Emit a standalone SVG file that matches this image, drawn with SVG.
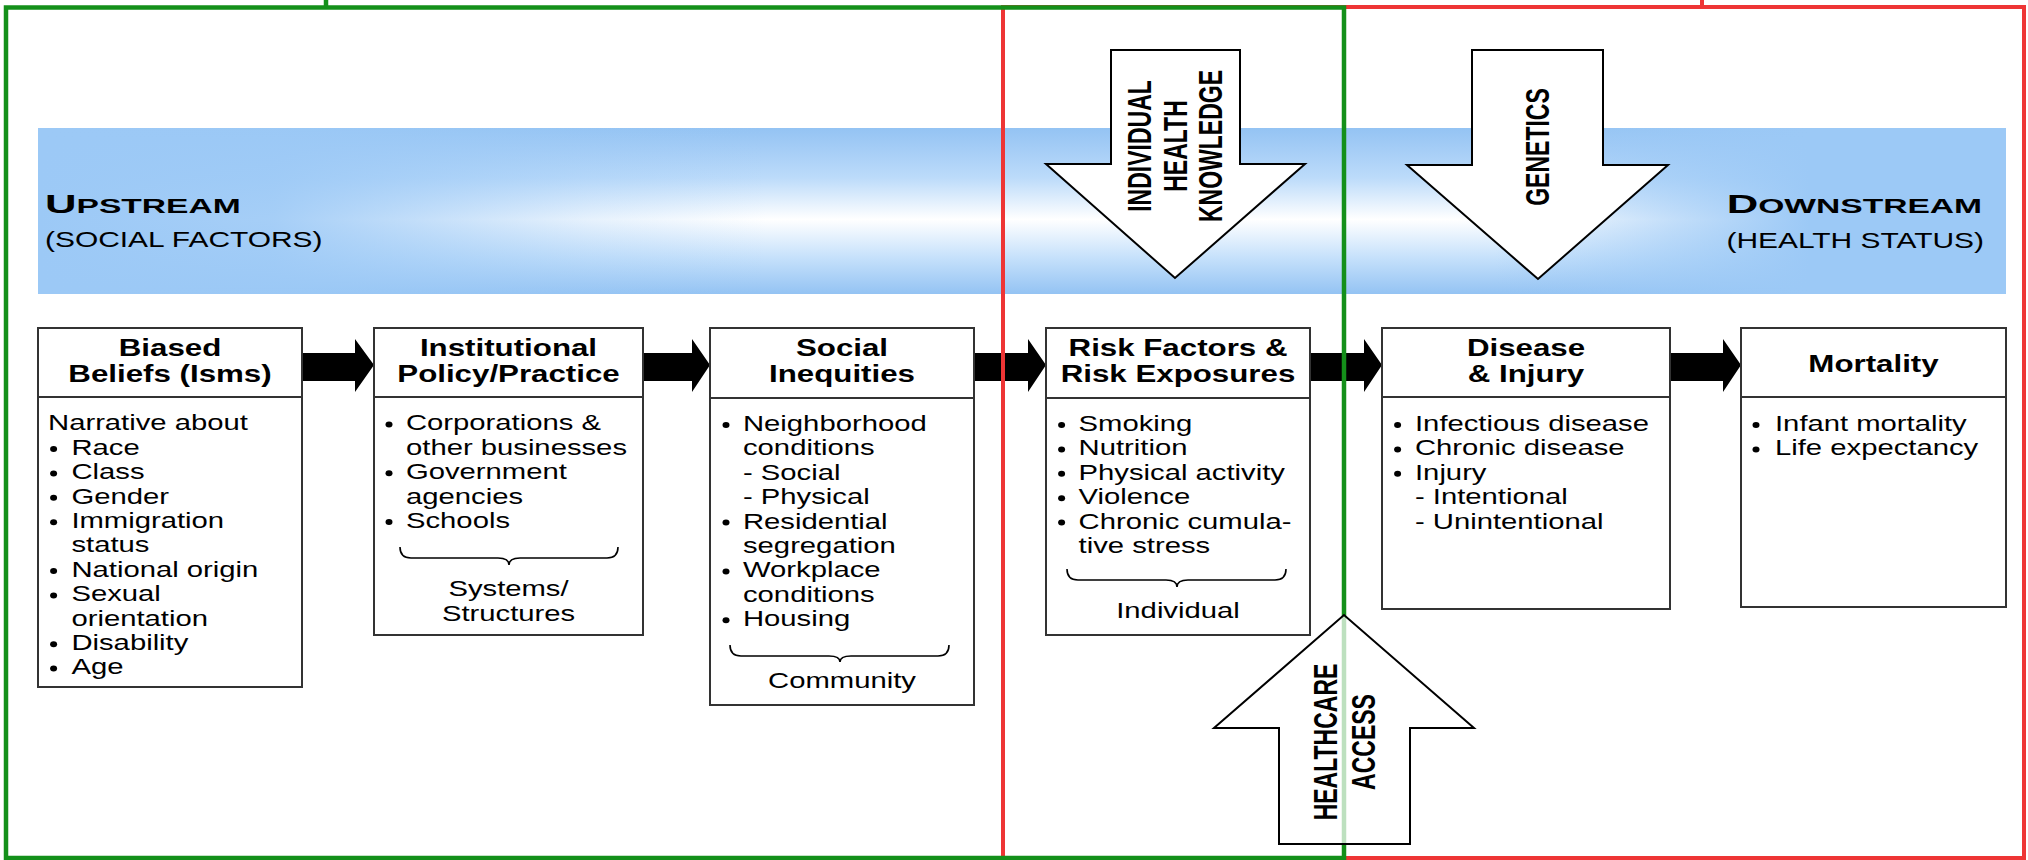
<svg xmlns="http://www.w3.org/2000/svg" width="2028" height="860" viewBox="0 0 2028 860">
<style>
text{font-family:"Liberation Sans",Arial,sans-serif;fill:#000}
.b{font-size:21.5px}
.h{font-size:23px;font-weight:bold;text-anchor:middle}
.c{font-size:21.5px;text-anchor:middle}
.v{font-size:23px;font-weight:bold;text-anchor:middle}
.box{fill:#fff;stroke:#333;stroke-width:2}
.div{stroke:#333;stroke-width:2}
.dot{fill:#000}
.brace{fill:none;stroke:#000;stroke-width:1.6}
.conn{fill:#000}
.big{fill:#fff;stroke:#000;stroke-width:2}
</style>
<defs>
<linearGradient id="vg" x1="0" y1="0" x2="0" y2="1">
<stop offset="0" stop-color="#94c3f3"/>
<stop offset="0.3" stop-color="#bcdbfa"/>
<stop offset="0.55" stop-color="#ffffff"/>
<stop offset="0.78" stop-color="#c6e1fb"/>
<stop offset="1" stop-color="#94c3f3"/>
</linearGradient>
<linearGradient id="hg" x1="0" y1="0" x2="1" y2="0">
<stop offset="0" stop-color="#9cc9f6" stop-opacity="1"/>
<stop offset="0.12" stop-color="#9cc9f6" stop-opacity="0.9"/>
<stop offset="0.28" stop-color="#9cc9f6" stop-opacity="0.25"/>
<stop offset="0.37" stop-color="#9cc9f6" stop-opacity="0"/>
<stop offset="0.74" stop-color="#9cc9f6" stop-opacity="0"/>
<stop offset="0.83" stop-color="#9cc9f6" stop-opacity="0.6"/>
<stop offset="0.9" stop-color="#9cc9f6" stop-opacity="1"/>
<stop offset="1" stop-color="#9cc9f6" stop-opacity="1"/>
</linearGradient>
</defs>
<rect width="2028" height="860" fill="#fff"/>

<g id="band">
<rect x="38" y="128" width="1968" height="166" fill="url(#vg)"/>
<rect x="38" y="128" width="1968" height="166" fill="url(#hg)"/>
<g transform="translate(45,213) scale(1.68,1)"><text style="font-weight:bold"><tspan style="font-size:26px">U</tspan><tspan style="font-size:20px">PSTREAM</tspan></text></g>
<g transform="translate(45,247) scale(1.36,1)"><text style="font-size:22px">(SOCIAL FACTORS)</text></g>
<g transform="translate(1982,213) scale(1.68,1)"><text style="font-weight:bold;text-anchor:end"><tspan style="font-size:26px">D</tspan><tspan style="font-size:20px">OWNSTREAM</tspan></text></g>
<g transform="translate(1984,248) scale(1.36,1)"><text style="font-size:22px;text-anchor:end">(HEALTH STATUS)</text></g>
</g>

<g id="knowledge">
<path class="big" d="M1111,50 H1240 V164 H1305 L1175,278 L1046,164 H1111 Z"/>
<g transform="translate(1151,146) scale(1.42,1) rotate(-90)"><text class="v">INDIVIDUAL</text></g>
<g transform="translate(1186.5,146) scale(1.42,1) rotate(-90)"><text class="v">HEALTH</text></g>
<g transform="translate(1222,146) scale(1.42,1) rotate(-90)"><text class="v">KNOWLEDGE</text></g>
</g>

<g id="genetics">
<path class="big" d="M1472,50 H1603 V165 H1668 L1538,279 L1407,165 H1472 Z"/>
<g transform="translate(1549,147) scale(1.42,1) rotate(-90)"><text class="v">GENETICS</text></g>
</g>

<g id="connectors">
<path class="conn" d="M302,353 H355 V339 L374,365 L355,392 V381 H302 Z"/>
<path class="conn" d="M643,353 H692 V339 L710,365 L692,392 V381 H643 Z"/>
<path class="conn" d="M974,353 H1028 V339 L1046,365 L1028,392 V381 H974 Z"/>
<path class="conn" d="M1310,353 H1364 V339 L1382,365 L1364,392 V381 H1310 Z"/>
<path class="conn" d="M1670,353 H1723 V339 L1741,365 L1723,392 V381 H1670 Z"/>
</g>

<g id="biased">
<rect class="box" x="38" y="328" width="264" height="359"/>
<line class="div" x1="38" y1="397" x2="302" y2="397"/>
<g transform="translate(170,0) scale(1.36,1)"><text class="h" y="356">Biased</text><text class="h" y="382">Beliefs (Isms)</text></g>
<g class="dot"><ellipse cx="53.6" cy="449" rx="3.5" ry="3"/><ellipse cx="53.6" cy="473.4" rx="3.5" ry="3"/><ellipse cx="53.6" cy="497.8" rx="3.5" ry="3"/><ellipse cx="53.6" cy="522.2" rx="3.5" ry="3"/><ellipse cx="53.6" cy="571" rx="3.5" ry="3"/><ellipse cx="53.6" cy="595.4" rx="3.5" ry="3"/><ellipse cx="53.6" cy="644.2" rx="3.5" ry="3"/><ellipse cx="53.6" cy="668.6" rx="3.5" ry="3"/></g>
<g transform="translate(71.4,0) scale(1.36,1)">
<text class="b" x="-17.2" y="430.5">Narrative about</text>
<text class="b" y="454.9">Race</text>
<text class="b" y="479.3">Class</text>
<text class="b" y="503.7">Gender</text>
<text class="b" y="528.1">Immigration</text>
<text class="b" y="552.5">status</text>
<text class="b" y="576.9">National origin</text>
<text class="b" y="601.3">Sexual</text>
<text class="b" y="625.7">orientation</text>
<text class="b" y="650.1">Disability</text>
<text class="b" y="674.5">Age</text>
</g>
</g>

<g id="institutional">
<rect class="box" x="374" y="328" width="269" height="307"/>
<line class="div" x1="374" y1="397" x2="643" y2="397"/>
<g transform="translate(508.5,0) scale(1.36,1)"><text class="h" y="356">Institutional</text><text class="h" y="382">Policy/Practice</text>
<text class="c" y="596">Systems/</text><text class="c" y="621">Structures</text></g>
<g class="dot"><ellipse cx="389" cy="424.5" rx="3.5" ry="3"/><ellipse cx="389" cy="473.3" rx="3.5" ry="3"/><ellipse cx="389" cy="522.1" rx="3.5" ry="3"/></g>
<g transform="translate(406,0) scale(1.36,1)">
<text class="b" y="430.5">Corporations &amp;</text>
<text class="b" y="454.9">other businesses</text>
<text class="b" y="479.3">Government</text>
<text class="b" y="503.7">agencies</text>
<text class="b" y="528.1">Schools</text>
</g>
<path class="brace" d="M400,547 Q400,558 411,558 L498,558 Q509,558 509,565 Q509,558 520,558 L607,558 Q618,558 618,547"/>
</g>

<g id="social">
<rect class="box" x="710" y="328" width="264" height="377"/>
<line class="div" x1="710" y1="398" x2="974" y2="398"/>
<g transform="translate(842,0) scale(1.36,1)"><text class="h" y="356">Social</text><text class="h" y="382">Inequities</text>
<text class="c" y="688">Community</text></g>
<g class="dot"><ellipse cx="726" cy="425" rx="3.5" ry="3"/><ellipse cx="726" cy="522.6" rx="3.5" ry="3"/><ellipse cx="726" cy="571.4" rx="3.5" ry="3"/><ellipse cx="726" cy="620.2" rx="3.5" ry="3"/></g>
<g transform="translate(743,0) scale(1.36,1)">
<text class="b" y="431">Neighborhood</text>
<text class="b" y="455.4">conditions</text>
<text class="b" y="479.8">- Social</text>
<text class="b" y="504.2">- Physical</text>
<text class="b" y="528.6">Residential</text>
<text class="b" y="553">segregation</text>
<text class="b" y="577.4">Workplace</text>
<text class="b" y="601.8">conditions</text>
<text class="b" y="626.2">Housing</text>
</g>
<path class="brace" d="M730,645 Q730,656 741,656 L829,656 Q840,656 840,662 Q840,656 851,656 L938,656 Q949,656 949,645"/>
</g>

<g id="risk">
<rect class="box" x="1046" y="328" width="264" height="307"/>
<line class="div" x1="1046" y1="398" x2="1310" y2="398"/>
<g transform="translate(1178,0) scale(1.36,1)"><text class="h" y="356.5">Risk Factors &amp;</text><text class="h" y="382.3">Risk Exposures</text>
<text class="c" y="618">Individual</text></g>
<g class="dot"><ellipse cx="1061.6" cy="425" rx="3.5" ry="3"/><ellipse cx="1061.6" cy="449.4" rx="3.5" ry="3"/><ellipse cx="1061.6" cy="473.8" rx="3.5" ry="3"/><ellipse cx="1061.6" cy="498.2" rx="3.5" ry="3"/><ellipse cx="1061.6" cy="522.6" rx="3.5" ry="3"/></g>
<g transform="translate(1078.6,0) scale(1.36,1)">
<text class="b" y="431">Smoking</text>
<text class="b" y="455.4">Nutrition</text>
<text class="b" y="479.8">Physical activity</text>
<text class="b" y="504.2">Violence</text>
<text class="b" y="528.6">Chronic cumula-</text>
<text class="b" y="553">tive stress</text>
</g>
<path class="brace" d="M1067,569 Q1067,580 1078,580 L1166,580 Q1177,580 1177,587 Q1177,580 1188,580 L1275,580 Q1286,580 1286,569"/>
</g>

<g id="disease">
<rect class="box" x="1382" y="328" width="288" height="281"/>
<line class="div" x1="1382" y1="397" x2="1670" y2="397"/>
<g transform="translate(1526,0) scale(1.36,1)"><text class="h" y="356">Disease</text><text class="h" y="382">&amp; Injury</text></g>
<g class="dot"><ellipse cx="1397.6" cy="425" rx="3.5" ry="3"/><ellipse cx="1397.6" cy="449.4" rx="3.5" ry="3"/><ellipse cx="1397.6" cy="473.8" rx="3.5" ry="3"/></g>
<g transform="translate(1415,0) scale(1.36,1)">
<text class="b" y="431">Infectious disease</text>
<text class="b" y="455.4">Chronic disease</text>
<text class="b" y="479.8">Injury</text>
<text class="b" y="504.2">- Intentional</text>
<text class="b" y="528.6">- Unintentional</text>
</g>
</g>

<g id="mortality">
<rect class="box" x="1741" y="328" width="265" height="279"/>
<line class="div" x1="1741" y1="397" x2="2006" y2="397"/>
<g transform="translate(1873.5,0) scale(1.36,1)"><text class="h" y="372">Mortality</text></g>
<g class="dot"><ellipse cx="1756" cy="425" rx="3.5" ry="3"/><ellipse cx="1756" cy="449.4" rx="3.5" ry="3"/></g>
<g transform="translate(1775,0) scale(1.36,1)">
<text class="b" y="431">Infant mortality</text>
<text class="b" y="455.4">Life expectancy</text>
</g>
</g>

<g id="frames" fill="none">
<path d="M1003,7 H2024 V858 H1003 Z M1702,0 V7" stroke="#ee3535" stroke-width="4"/>
<path d="M6,7.5 H1344 V858 H6 Z M326,0 V7.5" stroke="#14901a" stroke-width="4.5"/>
</g>

<g id="healthcare">
<path d="M1279,844 V728 H1214 L1344,615 L1474,728 H1410 V844 Z" fill="#fff" fill-opacity="0.72" stroke="#000" stroke-width="2"/>
<g transform="translate(1337,742) scale(1.42,1) rotate(-90)"><text class="v">HEALTHCARE</text></g>
<g transform="translate(1375,742) scale(1.42,1) rotate(-90)"><text class="v">ACCESS</text></g>
</g>
</svg>
